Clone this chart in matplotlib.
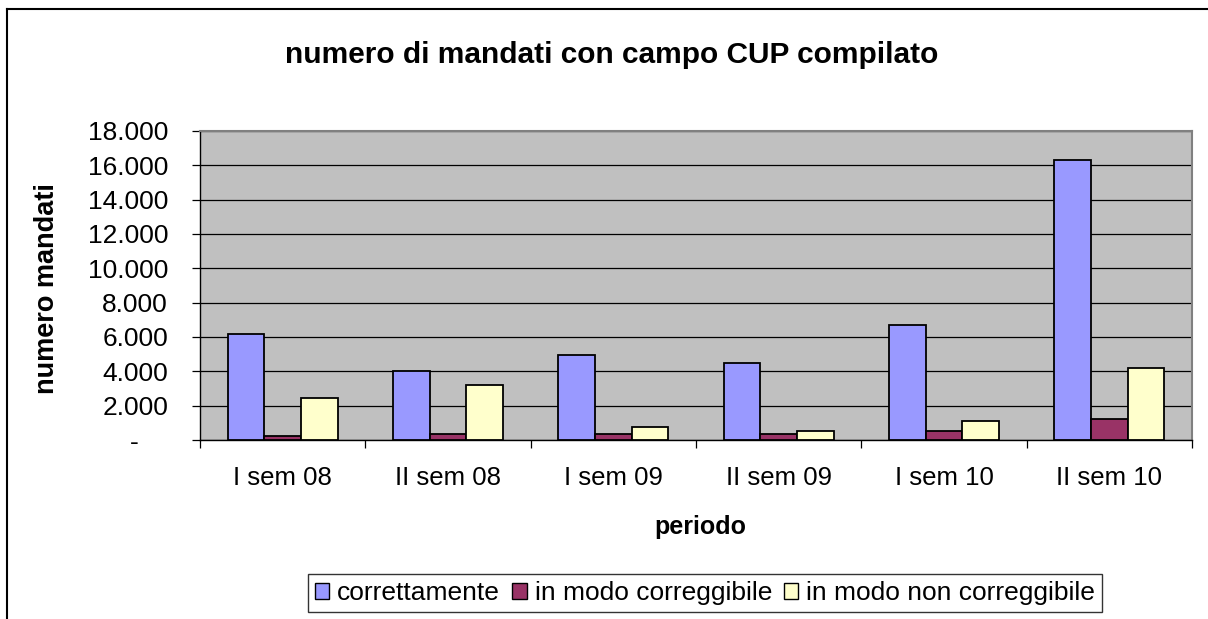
import matplotlib
matplotlib.use("Agg")
import matplotlib.pyplot as plt
import numpy as np
from matplotlib.patches import Patch
from matplotlib.lines import Line2D

categories = ["I sem 08", "II sem 08", "I sem 09", "II sem 09", "I sem 10", "II sem 10"]
correttamente = [6150, 4000, 4950, 4500, 6700, 16300]
correggibile = [210, 330, 330, 330, 540, 1200]
non_correggibile = [2420, 3200, 770, 540, 1080, 4190]
series_names = ["correttamente", "in modo correggibile", "in modo non correggibile"]
colors = ["#9999FF", "#993366", "#FFFFCC"]
yticks = [0, 2000, 4000, 6000, 8000, 10000, 12000, 14000, 16000, 18000]

plt.rcParams['font.family'] = ['Liberation Sans', 'DejaVu Sans']

W, H = 1208, 619
fig = plt.figure(figsize=(W / 100, H / 100), dpi=100)
fig.patch.set_facecolor("white")

L, R, T, B = 200, 1192, 131, 440
ax = fig.add_axes([L / W, 1 - B / H, (R - L) / W, (B - T) / H])
ax.set_facecolor("#C0C0C0")

x = np.arange(len(categories))
w = 1 / 4.5
data = [correttamente, correggibile, non_correggibile]
for i, (vals, c) in enumerate(zip(data, colors)):
    ax.bar(x + (i - 1) * w, vals, width=w, color=c, edgecolor="black",
           linewidth=1.3, zorder=3)

ax.set_xlim(-0.5, len(categories) - 0.5)
ax.set_ylim(0, 18000)
ax.set_yticks(yticks)
ax.set_yticklabels(["-    " if v == 0 else f"{v:,}".replace(",", ".") for v in yticks])
ax.yaxis.grid(True, color="black", linewidth=0.9, zorder=1)
ax.set_axisbelow(True)

ax.set_xticks(x)
ax.set_xticklabels(categories)
ax.set_xticks(np.arange(len(categories) + 1) - 0.5, minor=True)
ax.tick_params(axis="x", which="major", length=0, pad=19, labelsize=18.5)
ax.tick_params(axis="x", which="minor", length=6, width=0.9, direction="out")
ax.tick_params(axis="y", which="major", length=6, width=0.9, direction="out", pad=17, labelsize=19)

for s in ["left", "bottom"]:
    ax.spines[s].set_color("black")
    ax.spines[s].set_linewidth(1.0)
for s in ["top", "right"]:
    ax.spines[s].set_color("#808080")
    ax.spines[s].set_linewidth(1.5)

fig.text(612 / W, 1 - 55 / H, "numero di mandati con campo CUP compilato",
         ha="center", va="center", fontsize=21.5, fontweight="bold")
fig.text(47 / W, 1 - 289 / H, "numero mandati", ha="center", va="center",
         rotation=90, fontsize=19.5, fontweight="bold")
fig.text(700 / W, 1 - 527 / H, "periodo", ha="center", va="center",
         fontsize=18, fontweight="bold")

handles = [Patch(facecolor=c, edgecolor="black", linewidth=1.0) for c in colors]
leg = fig.legend(handles, series_names, loc="center", bbox_to_anchor=(705 / W, 1 - 593 / H),
                 ncol=3, frameon=True, fancybox=False, edgecolor="black",
                 fontsize=19, handlelength=0.55, handleheight=0.55, handletextpad=0.3,
                 columnspacing=0.45, borderpad=0.25, borderaxespad=0)
leg.get_frame().set_linewidth(1.0)

# outer chart border (left and top visible)
fig.add_artist(Line2D([7.5 / W, 7.5 / W], [0, 1 - 9 / H], transform=fig.transFigure,
                      color="black", linewidth=1.5))
fig.add_artist(Line2D([7.5 / W, 1], [1 - 9 / H, 1 - 9 / H], transform=fig.transFigure,
                      color="black", linewidth=1.5))

fig.savefig("out.png", dpi=100)
